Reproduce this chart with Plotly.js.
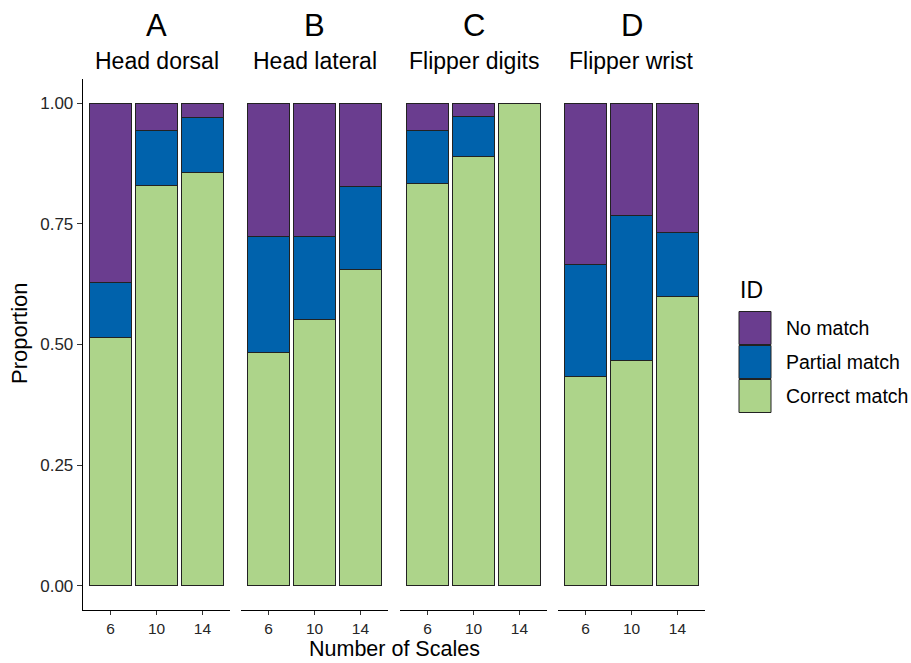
<!DOCTYPE html>
<html>
<head>
<meta charset="utf-8">
<script src="https://cdn.plot.ly/plotly-3.0.1.min.js"></script>
<style>html,body{margin:0;padding:0;background:#fff;}#chart{width:911px;height:663px;}</style>
</head>
<body>
<div id="chart"></div>
<script>
// ---- data ----
const categories = ["6", "10", "14"];
const panelLetters = ["A", "B", "C", "D"];
const panelNames = ["Head dorsal", "Head lateral", "Flipper digits", "Flipper wrist"];
const seriesNames = ["Correct match", "Partial match", "No match"];
const seriesColors = ["#ADD48A", "#0062AC", "#6A3D8F"];
const correctMatch = [
  [0.514, 0.829, 0.857],
  [0.483, 0.552, 0.655],
  [0.833, 0.889, 1.000],
  [0.433, 0.467, 0.600]
];
const partialMatch = [
  [0.114, 0.114, 0.114],
  [0.241, 0.172, 0.172],
  [0.111, 0.083, 0.000],
  [0.233, 0.300, 0.133]
];
const noMatch = [
  [0.371, 0.057, 0.029],
  [0.276, 0.276, 0.172],
  [0.056, 0.028, 0.000],
  [0.333, 0.233, 0.267]
];
const yTickVals = [0, 0.25, 0.5, 0.75, 1];
const yTickText = ["0.00", "0.25", "0.50", "0.75", "1.00"];

// ---- layout geometry ----
const W = 911, H = 663;
const mL = 83, mR = 206, mT = 79, mB = 53;
const pw = W - mL - mR, ph = H - mT - mB;
const panelPx = [[83, 230], [241, 388], [400, 547], [558, 705]];
const domains = panelPx.map(p => [(p[0] - mL) / pw, (p[1] - mL) / pw]);
const FONT = "Liberation Sans, Arial, sans-serif";
const px2x = x => (x - mL) / pw;
const px2y = y => (H - mB - y) / ph;

const allSeries = [correctMatch, partialMatch, noMatch];
const traces = [];
for (let p = 0; p < 4; p++) {
  const ax = p === 0 ? "x" : "x" + (p + 1);
  for (let s = 0; s < 3; s++) {
    traces.push({
      type: "bar",
      x: categories,
      y: allSeries[s][p],
      xaxis: ax,
      yaxis: "y",
      name: seriesNames[s],
      showlegend: false,
      marker: { color: seriesColors[s], line: { color: "#222", width: 1 } },
      hoverinfo: "skip"
    });
  }
}

const yTickFont = { family: FONT, size: 17, color: "#262626" };
const xTickFont = { family: FONT, size: 15.5, color: "#262626" };
const layout = {
  width: W, height: H,
  margin: { l: mL, r: mR, t: mT, b: mB },
  paper_bgcolor: "#fff", plot_bgcolor: "#fff",
  barmode: "stack",
  bargap: 0.1,
  showlegend: false,
  font: { family: FONT, color: "#000" },
  yaxis: {
    range: [-0.05, 1.05],
    tickvals: yTickVals, ticktext: yTickText,
    showgrid: false, zeroline: false,
    showline: true, linecolor: "#000", linewidth: 1.3,
    ticks: "outside", ticklen: 5, tickcolor: "#333", tickwidth: 1.2,
    tickfont: yTickFont,
    anchor: "x"
  },
  annotations: [],
  shapes: []
};
for (let p = 0; p < 4; p++) {
  const key = p === 0 ? "xaxis" : "xaxis" + (p + 1);
  layout[key] = {
    domain: domains[p],
    type: "category",
    range: [-0.6, 2.6],
    showgrid: false, zeroline: false,
    showline: true, linecolor: "#000", linewidth: 1.3,
    ticks: "outside", ticklen: 4, tickcolor: "#333", tickwidth: 1.2,
    tickfont: xTickFont,
    anchor: "y"
  };
  const cx = (domains[p][0] + domains[p][1]) / 2;
  layout.annotations.push({
    text: panelLetters[p], xref: "paper", yref: "paper",
    x: cx, y: px2y(25), xanchor: "center", yanchor: "middle",
    showarrow: false, font: { family: FONT, size: 31, color: "#000" }
  });
  layout.annotations.push({
    text: panelNames[p], xref: "paper", yref: "paper",
    x: cx, y: px2y(61), xanchor: "center", yanchor: "middle",
    showarrow: false, font: { family: FONT, size: 23, color: "#000" }
  });
}
// axis titles
layout.annotations.push({
  text: "Number of Scales", xref: "paper", yref: "paper",
  x: px2x(394), y: px2y(649), xanchor: "center", yanchor: "middle",
  showarrow: false, borderpad: 0, font: { family: FONT, size: 21.5, color: "#000" }
});
layout.annotations.push({
  text: "Proportion", xref: "paper", yref: "paper", textangle: -90,
  x: px2x(19), y: px2y(333), xanchor: "center", yanchor: "middle",
  showarrow: false, font: { family: FONT, size: 22, color: "#000" }
});
// custom legend (keys drawn top to bottom: No match, Partial, Correct)
layout.annotations.push({
  text: "ID", xref: "paper", yref: "paper",
  x: px2x(738), y: px2y(290), xanchor: "left", yanchor: "middle",
  showarrow: false, font: { family: FONT, size: 23, color: "#000" }
});
const legendOrder = [2, 1, 0];
legendOrder.forEach((s, i) => {
  const top = 311 + i * 34, bot = top + 34;
  layout.shapes.push({
    type: "rect", xref: "paper", yref: "paper",
    x0: px2x(739), x1: px2x(771), y0: px2y(bot - 0.5), y1: px2y(top + 0.5),
    fillcolor: seriesColors[s], line: { color: "#222", width: 1 }
  });
  layout.annotations.push({
    text: seriesNames[s], xref: "paper", yref: "paper",
    x: px2x(784), y: px2y((top + bot) / 2), xanchor: "left", yanchor: "middle",
    showarrow: false, font: { family: FONT, size: 19.5, color: "#000" }
  });
});

Plotly.newPlot("chart", traces, layout, { staticPlot: true, displayModeBar: false });
</script>
</body>
</html>
